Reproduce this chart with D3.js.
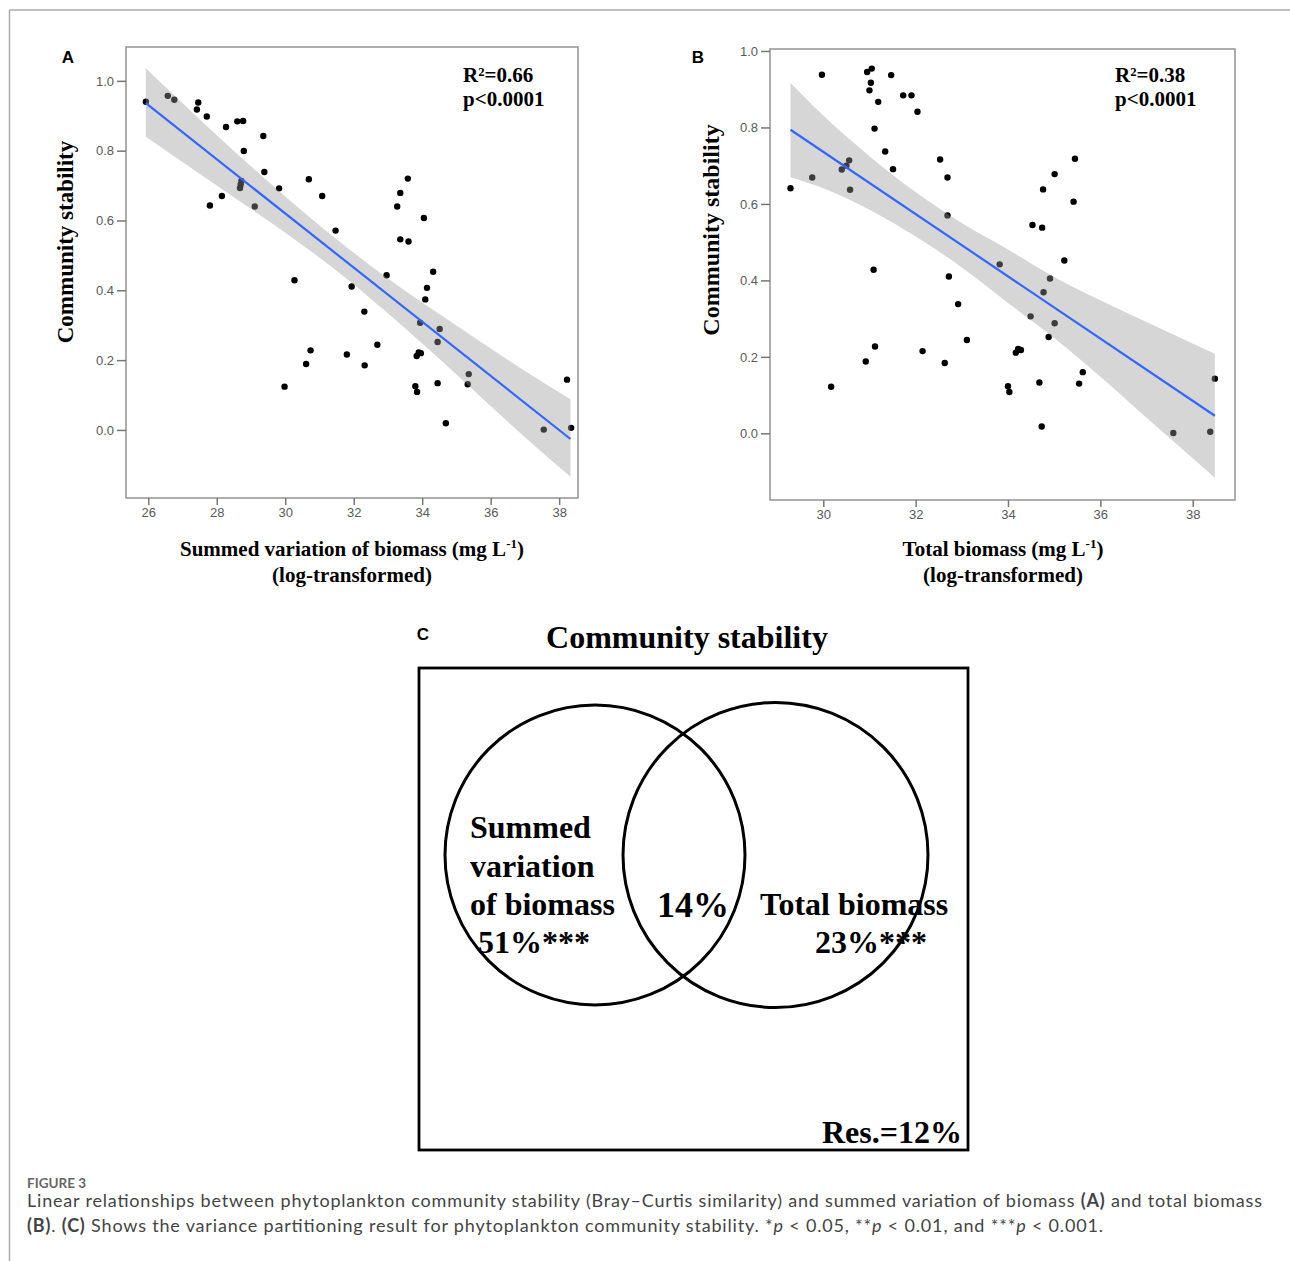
<!DOCTYPE html>
<html><head><meta charset="utf-8">
<script src="https://cdn.jsdelivr.net/npm/d3@7"></script>
<style>body{margin:0;background:#fff}svg{display:block}</style>
</head><body>
<svg id="c" width="1290" height="1261"></svg>
<script>
// ---------- DATA ----------
const pointsA_x = [25.93,26.57,26.76,27.46,27.42,27.71,28.27,28.60,28.77,29.36,28.79,29.39,28.72,28.70,28.68,29.82,28.15,27.80,29.11,30.69,31.08,31.47,33.58,33.36,33.27,34.05,33.36,33.60,34.32,34.14,34.09,30.27,31.94,32.96,32.31,33.94,34.51,34.45,30.74,30.61,31.80,32.69,32.32,33.84,33.90,33.96,29.98,33.80,33.85,34.45,35.33,35.36,34.69,38.23,37.55,38.35];
const pointsA_y = [0.940,0.957,0.946,0.938,0.918,0.898,0.868,0.884,0.885,0.842,0.799,0.739,0.713,0.703,0.693,0.692,0.670,0.643,0.640,0.718,0.670,0.571,0.720,0.679,0.640,0.607,0.546,0.540,0.453,0.407,0.374,0.429,0.411,0.443,0.339,0.307,0.289,0.252,0.228,0.189,0.216,0.244,0.185,0.212,0.222,0.220,0.124,0.125,0.109,0.134,0.131,0.160,0.019,0.144,0.001,0.006];
const fitA = [[25.93,0.936],[38.33,-0.026]];
const bandA_x  = [25.93,28,30,31.5,33,35,37,38.33];
const bandA_lo = [0.840,0.700,0.565,0.456,0.334,0.159,-0.021,-0.134];
const bandA_hi = [1.036,0.844,0.669,0.546,0.434,0.299,0.169,0.088];

const pointsB_x = [29.97,30.95,31.05,31.03,31.00,31.47,31.19,31.73,31.91,32.04,31.11,31.34,30.56,30.40,30.50,29.76,29.29,30.58,31.51,32.53,32.69,32.69,31.09,32.72,33.82,34.53,34.74,34.76,35.01,35.45,35.42,35.22,34.91,34.77,32.92,34.49,35.01,34.88,33.11,31.12,30.92,32.15,32.63,34.22,34.17,34.28,30.17,34.00,34.03,34.68,35.54,35.62,34.73,38.48,37.58,38.38];
const pointsB_y = [0.938,0.945,0.954,0.917,0.897,0.937,0.867,0.884,0.884,0.841,0.797,0.737,0.714,0.690,0.700,0.669,0.641,0.637,0.691,0.716,0.669,0.570,0.428,0.410,0.442,0.545,0.538,0.638,0.678,0.718,0.606,0.452,0.405,0.369,0.338,0.306,0.288,0.252,0.244,0.227,0.188,0.215,0.184,0.221,0.211,0.218,0.122,0.123,0.108,0.133,0.130,0.160,0.018,0.143,0.001,0.004];
const fitB = [[29.29,0.794],[38.48,0.046]];
const bandB_x  = [29.29,30,31,32,33,34,35,36,37,38.48];
const bandB_lo = [0.670,0.641,0.585,0.515,0.434,0.341,0.249,0.148,0.041,-0.116];
const bandB_hi = [0.916,0.831,0.725,0.631,0.550,0.481,0.409,0.348,0.291,0.208];

const ticksA_x = [26,28,30,32,34,36,38];
const ticksB_x = [30,32,34,36,38];
const ticks_y = [0.0,0.2,0.4,0.6,0.8,1.0];

const statsA = ["R²=0.66","p<0.0001"];
const statsB = ["R²=0.38","p<0.0001"];

const vennLabels = {
  left: ["Summed","variation","of biomass"], leftVal: "51%***",
  shared: "14%", right: "Total biomass", rightVal: "23%***", res: "Res.=12%"
};

// ---------- DRAW ----------
const svg = d3.select("#c");
const serif = "'Liberation Serif','Times New Roman',serif";
const sans = "'Liberation Sans',Arial,sans-serif";

// outer frame lines
svg.append("line").attr("x1",9.5).attr("x2",1290).attr("y1",10).attr("y2",10).attr("stroke","#aaa").attr("stroke-width",1.5);
svg.append("line").attr("x1",9.5).attr("x2",9.5).attr("y1",10).attr("y2",1261).attr("stroke","#aaa").attr("stroke-width",1.5);

function panel(cfg){
  const x = d3.scaleLinear().domain(cfg.xdom).range([cfg.left,cfg.right]);
  const y = d3.scaleLinear().domain(cfg.ydom).range([cfg.bottom,cfg.top]);
  const g = svg.append("g");
  // points
  g.selectAll("circle.pt").data(cfg.px.map((v,i)=>[v,cfg.py[i]])).join("circle")
    .attr("cx",d=>x(d[0])).attr("cy",d=>y(d[1])).attr("r",3.2).attr("fill","#000");
  // band
  const band = cfg.bx.map((v,i)=>({x:v,lo:cfg.blo[i],hi:cfg.bhi[i]}));
  g.append("path").datum(band)
    .attr("d",d3.area().x(d=>x(d.x)).y0(d=>y(d.lo)).y1(d=>y(d.hi)).curve(d3.curveMonotoneX))
    .attr("fill","#999").attr("fill-opacity",0.4);
  // fit line
  g.append("path").datum(cfg.fit)
    .attr("d",d3.line().x(d=>x(d[0])).y(d=>y(d[1])))
    .attr("stroke","#3366FF").attr("stroke-width",2.2).attr("fill","none");
  // box
  g.append("rect").attr("x",cfg.left).attr("y",cfg.top).attr("width",cfg.right-cfg.left).attr("height",cfg.bottom-cfg.top)
    .attr("fill","none").attr("stroke","#999").attr("stroke-width",1.6);
  // axes
  const ax = g.append("g").attr("transform",`translate(0,${cfg.bottom})`)
    .call(d3.axisBottom(x).tickValues(cfg.xt).tickSize(7).tickPadding(3).tickFormat(d3.format("d")));
  const ay = g.append("g").attr("transform",`translate(${cfg.left},0)`)
    .call(d3.axisLeft(y).tickValues(ticks_y).tickSize(9).tickPadding(3).tickFormat(d3.format(".1f")));
  [ax,ay].forEach(a=>{
    a.select(".domain").remove();
    a.selectAll("line").attr("stroke","#777").attr("stroke-width",1.5);
    a.selectAll("text").attr("fill","#5a5a5a").style("font-family",sans).style("font-size","13px");
  });
  // y title
  g.append("text").attr("transform",`translate(${cfg.ytx},${cfg.yty}) rotate(-90)`)
    .attr("text-anchor","middle").style("font-family",serif).style("font-weight","bold").style("font-size",cfg.yfs+"px")
    .text("Community stability");
  // x title
  const xt = g.append("text").attr("x",cfg.xtx).attr("y",556).attr("text-anchor","middle")
    .style("font-family",serif).style("font-weight","bold").style("font-size","21px");
  xt.append("tspan").text(cfg.xlabel+" (mg L");
  xt.append("tspan").attr("dy",-8).style("font-size","13px").text("-1");
  xt.append("tspan").attr("dy",8).text(")");
  g.append("text").attr("x",cfg.xtx).attr("y",582).attr("text-anchor","middle")
    .style("font-family",serif).style("font-weight","bold").style("font-size","21px").text("(log-transformed)");
  // stats
  cfg.stats.forEach((s,i)=>{
    g.append("text").attr("x",cfg.sx).attr("y",82+i*24).style("font-family",serif).style("font-weight","bold")
      .style("font-size","21px").text(s);
  });
  // letter
  g.append("text").attr("x",cfg.lx).attr("y",63).attr("text-anchor","middle").style("font-family",sans)
    .style("font-weight","bold").style("font-size","17px").text(cfg.letter);
}

panel({xdom:[25.35,38.55], ydom:[-0.195,1.097], left:126, right:578, top:47, bottom:498,
  px:pointsA_x, py:pointsA_y, bx:bandA_x, blo:bandA_lo, bhi:bandA_hi, fit:fitA, xt:ticksA_x,
  ytx:73, yty:242, yfs:23, xtx:352, xlabel:"Summed variation of biomass", stats:statsA, sx:463, lx:68, letter:"A"});
panel({xdom:[28.846,38.916], ydom:[-0.1744,1.0052], left:770, right:1235, top:49, bottom:500,
  px:pointsB_x, py:pointsB_y, bx:bandB_x, blo:bandB_lo, bhi:bandB_hi, fit:fitB, xt:ticksB_x,
  ytx:719, yty:230, yfs:24, xtx:1003, xlabel:"Total biomass", stats:statsB, sx:1115, lx:698, letter:"B"});

// ---------- Panel C ----------
const gc = svg.append("g");
gc.append("text").attr("x",423).attr("y",640).attr("text-anchor","middle").style("font-family",sans)
  .style("font-weight","bold").style("font-size","17px").text("C");
gc.append("text").attr("x",687).attr("y",648).attr("text-anchor","middle").style("font-family",serif)
  .style("font-weight","bold").style("font-size","32px").text("Community stability");
gc.append("rect").attr("x",419).attr("y",668).attr("width",549).attr("height",482)
  .attr("fill","none").attr("stroke","#000").attr("stroke-width",2.8);
const circles = [{cx:595,cy:855,r:150},{cx:775.5,cy:855,r:152.5}];
gc.selectAll("circle.v").data(circles).join("circle").attr("cx",d=>d.cx).attr("cy",d=>d.cy).attr("r",d=>d.r)
  .attr("fill","none").attr("stroke","#000").attr("stroke-width",3);
const vt = (x,y,t,fs,anchor)=>gc.append("text").attr("x",x).attr("y",y).attr("text-anchor",anchor||"start")
  .style("font-family",serif).style("font-weight","bold").style("font-size",(fs||32)+"px").text(t);
vennLabels.left.forEach((t,i)=>vt(470,838+i*38.5,t));
vt(478,953,vennLabels.leftVal);
vt(657,917,vennLabels.shared,36);
vt(760,915,vennLabels.right);
vt(815,953,vennLabels.rightVal);
vt(962,1143,vennLabels.res,32,"end");

// ---------- Caption ----------
const capFont = "Lato,'Open Sans',sans-serif";
svg.append("text").attr("x",27).attr("y",1188).style("font-family",capFont).style("font-weight","bold")
  .style("font-size","13.5px").attr("fill","#666").text("FIGURE 3");
const c1 = svg.append("text").attr("x",27).attr("y",1207).style("font-family",capFont).style("font-size","18px")
  .attr("fill","#444").attr("textLength",1235).attr("lengthAdjust","spacing");
c1.append("tspan").text("Linear relationships between phytoplankton community stability (Bray–Curtis similarity) and summed variation of biomass ");
c1.append("tspan").style("font-weight","bold").text("(A)");
c1.append("tspan").text(" and total biomass");
const c2 = svg.append("text").attr("x",27).attr("y",1232).style("font-family",capFont).style("font-size","18px")
  .attr("fill","#444").attr("textLength",1076).attr("lengthAdjust","spacing");
c2.append("tspan").style("font-weight","bold").text("(B)");
c2.append("tspan").text(". ");
c2.append("tspan").style("font-weight","bold").text("(C)");
c2.append("tspan").text(" Shows the variance partitioning result for phytoplankton community stability. *");
c2.append("tspan").style("font-style","italic").text("p");
c2.append("tspan").text(" < 0.05, **");
c2.append("tspan").style("font-style","italic").text("p");
c2.append("tspan").text(" < 0.01, and ***");
c2.append("tspan").style("font-style","italic").text("p");
c2.append("tspan").text(" < 0.001.");
</script>
</body></html>
